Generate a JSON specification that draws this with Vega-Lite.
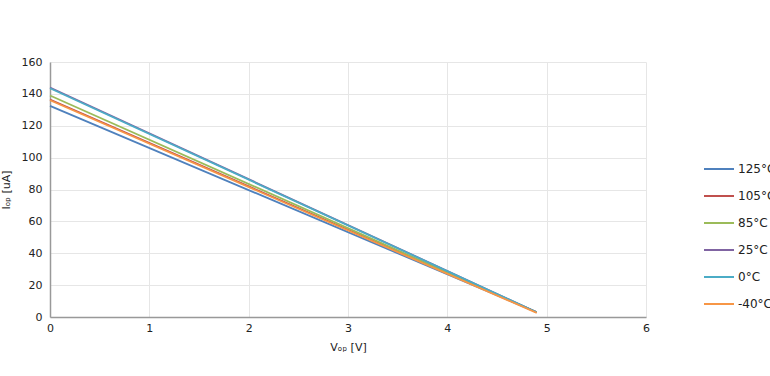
{
  "$schema": "https://vega.github.io/schema/vega-lite/v6.json",
  "width": 596,
  "height": 255,
  "autosize": {"type": "none"},
  "padding": {"left": 50, "top": 62, "right": 124, "bottom": 59},
  "background": "white",
  "config": {
    "font": "DejaVu Sans",
    "view": {"stroke": null}
  },
  "data": {
    "values": [
      {"t": "125°C", "v": 0, "i": 132.5},
      {"t": "125°C", "v": 4.9, "i": 3},
      {"t": "105°C", "v": 0, "i": 136.5},
      {"t": "105°C", "v": 4.9, "i": 3},
      {"t": "85°C", "v": 0, "i": 139},
      {"t": "85°C", "v": 4.9, "i": 3},
      {"t": "25°C", "v": 0, "i": 144},
      {"t": "25°C", "v": 4.9, "i": 3},
      {"t": "0°C", "v": 0, "i": 143.5},
      {"t": "0°C", "v": 4.9, "i": 3},
      {"t": "-40°C", "v": 0, "i": 136},
      {"t": "-40°C", "v": 4.9, "i": 2.6}
    ]
  },
  "mark": {"type": "line", "strokeWidth": 1.8},
  "encoding": {
    "x": {
      "field": "v", "type": "quantitative",
      "scale": {"domain": [0, 6], "nice": false},
      "axis": {
        "title": "Vₒₚ [V]", "titleFontWeight": "normal", "titleFontSize": 11, "titleColor": "#222", "titlePadding": 8,
        "values": [0, 1, 2, 3, 4, 5, 6], "format": "d", "labelFlush": false,
        "labelFontSize": 11, "labelColor": "#222", "labelPadding": 5,
        "ticks": false, "domainColor": "#999", "domainWidth": 1.5,
        "grid": true, "gridColor": "#e6e6e6"
      }
    },
    "y": {
      "field": "i", "type": "quantitative",
      "scale": {"domain": [0, 160], "nice": false},
      "axis": {
        "title": "Iₒₚ [uA]", "titleFontWeight": "normal", "titleFontSize": 11, "titleColor": "#222", "titlePadding": 10,
        "values": [0, 20, 40, 60, 80, 100, 120, 140, 160], "labelFlush": false,
        "labelFontSize": 11, "labelColor": "#222", "labelPadding": 8,
        "ticks": false, "domainColor": "#999", "domainWidth": 1.5,
        "grid": true, "gridColor": "#e6e6e6"
      }
    },
    "color": {
      "field": "t", "type": "nominal",
      "scale": {
        "domain": ["125°C", "105°C", "85°C", "25°C", "0°C", "-40°C"],
        "range": ["#4F81BD", "#C0504D", "#9BBB59", "#8064A2", "#4BACC6", "#F79646"]
      },
      "legend": {
        "title": null, "orient": "none", "legendX": 653, "legendY": 91,
        "symbolType": "stroke", "symbolSize": 900, "symbolStrokeWidth": 2,
        "labelFontSize": 12, "labelColor": "#222", "rowPadding": 5, "labelOffset": 3
      }
    },
    "order": {"field": "t"}
  }
}
